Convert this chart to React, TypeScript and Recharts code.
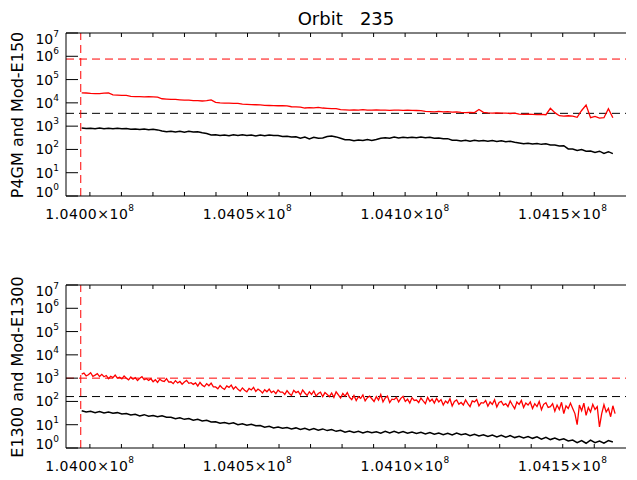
import { Line, LineChart, ReferenceLine, XAxis, YAxis } from "recharts";

// sample grids of the orbit (seconds)
const T_START = 103997400;
const T_STEP = 1416;
const T_STEP_FINE = 708;
const T_MARK = 103997100;

const X_DOMAIN = [103992420, 104170070];
const X_TICKS = [
  104000000, 104010000, 104020000, 104030000, 104040000, 104050000, 104060000, 104070000, 104080000,
  104090000, 104100000, 104110000, 104120000, 104130000, 104140000, 104150000, 104160000,
];
const Y_TICKS = [1, 10, 100, 1e3, 1e4, 1e5, 1e6, 1e7];

// top panel (coarse grid)
const p4gm = [
  840, 790, 820, 780, 830, 780, 810, 770, 810, 770,
  800, 740, 760, 710, 760, 700, 740, 690, 620, 570,
  610, 560, 600, 550, 600, 560, 580, 520, 480, 420,
  430, 395, 420, 390, 430, 400, 425, 395, 420, 380,
  420, 390, 420, 395, 400, 360, 370, 340, 350, 300,
  340, 285, 330, 300, 310, 360, 375, 345, 300, 260,
  260, 235, 255, 240, 265, 240, 265, 300, 320, 305,
  340, 310, 330, 315, 335, 320, 340, 320, 330, 300,
  310, 285, 290, 250, 250, 230, 245, 225, 245, 230,
  240, 225, 240, 220, 235, 215, 225, 205, 190, 175,
  185, 170, 180, 165, 175, 155, 155, 140, 145, 105,
  105, 90, 98, 84, 86, 74, 84, 68, 80, 66,
];
const modE150 = [
  27000, 26500, 25500, 25000, 25000, 26000, 26500, 22000, 21500, 21000,
  21000, 19000, 18500, 18500, 18000, 18500, 18000, 17500, 15000, 14500,
  14000, 14000, 13500, 13000, 13000, 12500, 12500, 12000, 12500, 13500,
  10500, 10000, 9800, 9800, 9500, 9500, 8800, 8600, 8400, 8300,
  8200, 7800, 7700, 7600, 7500, 7500, 7400, 6800, 6700, 6500,
  6000, 6200, 6100, 6400, 6000, 5800, 5600, 5700, 5100, 5000,
  4900, 5000, 4900, 5100, 4900, 4900, 5000, 4900, 4900, 4800,
  4900, 4900, 4800, 4900, 4800, 4700, 4600, 4300, 4200, 4100,
  4300, 4100, 4200, 4000, 4100, 3900, 3800, 3900, 3800, 5200,
  3900, 3700, 3600, 3700, 3600, 3600, 3500, 3600, 3300, 3200,
  3300, 3200, 3100, 3200, 3100, 5800, 3800, 2800, 2700, 2800,
  2700, 2400, 4700, 8000, 2300, 2600, 2200, 2300, 5600, 2300,
];
const TOP_RED_LEVEL = 760000;
const TOP_BLACK_LEVEL = 3550;

// bottom panel: e1300 on the coarse grid, modE1300 on the fine grid
const e1300 = [
  40, 35, 38, 33, 37, 32, 35, 31, 33, 29,
  30, 26, 28, 24, 27, 23, 25, 22, 24, 21,
  21, 18, 20, 17, 18.5, 15.5, 17, 14.5, 15.5, 13,
  13.5, 11.5, 12.5, 11, 12, 10, 11, 9.5, 10.5, 9,
  9.2, 7.8, 8.6, 7.2, 8, 7, 7.6, 6.6, 7.3, 6.2,
  7, 6, 6.8, 5.8, 6.6, 5.6, 6.2, 5.2, 5.8, 4.8,
  5.4, 4.6, 5.2, 4.4, 5.1, 4.5, 5.0, 4.3, 5.2, 4.4,
  5.2, 4.4, 5.1, 4.3, 4.9, 4.2, 4.7, 4.0, 4.6, 3.9,
  4.4, 3.7, 4.3, 3.6, 4.4, 3.7, 4.1, 3.4, 3.9, 3.3,
  3.7, 3.1, 3.6, 3.0, 3.5, 2.9, 3.4, 2.8, 3.2, 2.7,
  3.1, 2.6, 3.0, 2.4, 2.9, 2.3, 2.7, 2.2, 2.5, 2.0,
  2.2, 1.7, 2.1, 1.6, 2.2, 1.7, 2.0, 1.6, 2.1, 1.8,
];
const modE1300 = [
  1500, 1650, 1250, 1400, 1700, 1200, 1350, 1550, 1170, 1450,
  1150, 1300, 950, 1200, 1050, 1350, 1000, 1100, 930, 1250,
  1000, 850, 1120, 900, 1050, 790, 980, 1150, 860, 950,
  800, 940, 700, 850, 660, 900, 760, 720, 960, 680,
  700, 580, 780, 620, 720, 550, 680, 800, 600, 640,
  540, 620, 460, 660, 500, 430, 580, 470, 610, 420,
  420, 350, 480, 380, 330, 460, 400, 500, 340, 430,
  330, 280, 380, 300, 260, 360, 310, 400, 270, 340,
  290, 230, 320, 260, 340, 240, 280, 215, 310, 250,
  250, 200, 290, 220, 180, 300, 240, 270, 190, 310,
  230, 180, 260, 200, 280, 170, 220, 250, 160, 240,
  200, 160, 230, 150, 260, 190, 140, 220, 170, 240,
  150, 120, 180, 110, 160, 135, 190, 105, 145, 170,
  130, 100, 160, 115, 200, 95, 140, 170, 90, 125,
  120, 150, 95, 135, 165, 100, 125, 85, 145, 110,
  115, 90, 140, 105, 80, 150, 100, 125, 85, 135,
  95, 120, 70, 105, 85, 130, 64, 100, 115, 75,
  90, 70, 115, 80, 60, 105, 95, 120, 65, 88,
  85, 110, 62, 95, 75, 118, 58, 90, 100, 70,
  80, 60, 105, 70, 49, 95, 75, 110, 55, 85,
  70, 95, 50, 80, 60, 100, 44, 75, 88, 55,
  60, 80, 38, 70, 45, 92, 30, 65, 50, 85,
  50, 30, 10, 70, 40, 84, 25, 55, 35, 75,
  45, 60, 8, 30, 72, 35, 50, 22, 65, 30,
];
const BOTTOM_RED_LEVEL = 1000;
const BOTTOM_BLACK_LEVEL = 162;

const FONT = "DejaVu Sans";

const rows = (vals: number[], step: number) => vals.map((v, i) => ({ t: T_START + i * step, v }));

const BottomTick = ({ x, y, payload }: any) => {
  const v = payload.value;
  const major = v % 50000 === 0;
  return (
    <g>
      <line x1={x} y1={y} x2={x} y2={y - 4} stroke="#000" />
      {major && (
        <text x={x} y={y + 23} textAnchor="middle" fontSize={14} fontFamily={FONT} letterSpacing={0.5} fill="#000">
          {(v / 1e8).toFixed(4)}×10
          <tspan dy={-8} fontSize={9}>
            8
          </tspan>
        </text>
      )}
    </g>
  );
};

const TopTick = ({ x, y }: any) => <line x1={x} y1={y} x2={x} y2={y + 4} stroke="#000" />;

const LeftTick = ({ x, y, payload }: any) => {
  const exp = Math.round(Math.log10(payload.value));
  const base = exp === 7 ? y + 11 : exp === 0 ? y + 1 : y + 5;
  return (
    <g>
      <line x1={x} y1={y} x2={x + 12} y2={y} stroke="#000" />
      <text x={x - 7} y={base} textAnchor="end" fontSize={14} fontFamily={FONT} fill="#000">
        10
        <tspan dy={-7} fontSize={9}>
          {exp}
        </tspan>
      </text>
    </g>
  );
};

const RightTick = ({ x, y }: any) => <line x1={x} y1={y} x2={x - 11} y2={y} stroke="#000" />;

type PanelProps = {
  black: number[];
  red: number[];
  redStep: number;
  redLevel: number;
  blackLevel: number;
  top: number;
  bottom: number;
};

const Panel = ({ black, red, redStep, redLevel, blackLevel, top, bottom }: PanelProps) => (
  <LineChart width={637} height={240} margin={{ top: 0, right: 11, bottom: 0, left: 0 }}>
    <XAxis
      dataKey="t"
      type="number"
      domain={X_DOMAIN}
      ticks={X_TICKS}
      allowDataOverflow
      interval={0}
      height={bottom}
      tickSize={0}
      tickMargin={0}
      tick={<BottomTick />}
      axisLine={{ stroke: "#000" }}
    />
    <XAxis
      xAxisId="top"
      orientation="top"
      dataKey="t"
      type="number"
      domain={X_DOMAIN}
      ticks={X_TICKS}
      allowDataOverflow
      interval={0}
      height={top}
      tickSize={0}
      tickMargin={0}
      tick={<TopTick />}
      axisLine={{ stroke: "#000" }}
    />
    <YAxis
      scale="log"
      domain={[1, 1e7]}
      ticks={Y_TICKS}
      allowDataOverflow
      interval={0}
      width={66}
      tickSize={0}
      tickMargin={0}
      tick={<LeftTick />}
      axisLine={{ stroke: "#000" }}
    />
    <YAxis
      yAxisId="right"
      orientation="right"
      scale="log"
      domain={[1, 1e7]}
      ticks={Y_TICKS}
      allowDataOverflow
      interval={0}
      width={0}
      tickSize={0}
      tickMargin={0}
      tick={<RightTick />}
      axisLine={{ stroke: "#000" }}
    />
    <ReferenceLine y={redLevel} stroke="#ff0000" strokeDasharray="8 5" />
    <ReferenceLine y={blackLevel} stroke="#000" strokeDasharray="8 5" />
    <ReferenceLine x={T_MARK} stroke="#ff0000" strokeDasharray="8 5" />
    <Line
      data={rows(red, redStep)}
      dataKey="v"
      stroke="#ff0000"
      strokeWidth={1.3}
      dot={false}
      isAnimationActive={false}
    />
    <Line
      data={rows(black, T_STEP)}
      dataKey="v"
      stroke="#000"
      strokeWidth={1.5}
      dot={false}
      isAnimationActive={false}
    />
  </LineChart>
);

export default function App() {
  return (
    <div style={{ position: "absolute", left: 0, top: 0, width: 637, height: 480, background: "#fff" }}>
      <Panel
        black={p4gm}
        red={modE150}
        redStep={T_STEP}
        redLevel={TOP_RED_LEVEL}
        blackLevel={TOP_BLACK_LEVEL}
        top={33}
        bottom={44}
      />
      <Panel
        black={e1300}
        red={modE1300}
        redStep={T_STEP_FINE}
        redLevel={BOTTOM_RED_LEVEL}
        blackLevel={BOTTOM_BLACK_LEVEL}
        top={45}
        bottom={32}
      />
      <svg width={637} height={480} style={{ position: "absolute", left: 0, top: 0, pointerEvents: "none" }}>
        <text x={346} y={25} textAnchor="middle" fontSize={18} fontFamily={FONT} style={{ whiteSpace: "pre" }}>
          {"Orbit   235"}
        </text>
        <text x={23} y={115} transform="rotate(-90 23 115)" textAnchor="middle" fontSize={16} fontFamily={FONT}>
          P4GM and Mod-E150
        </text>
        <text x={23} y={367} transform="rotate(-90 23 367)" textAnchor="middle" fontSize={16} fontFamily={FONT}>
          E1300 and Mod-E1300
        </text>
      </svg>
    </div>
  );
}
